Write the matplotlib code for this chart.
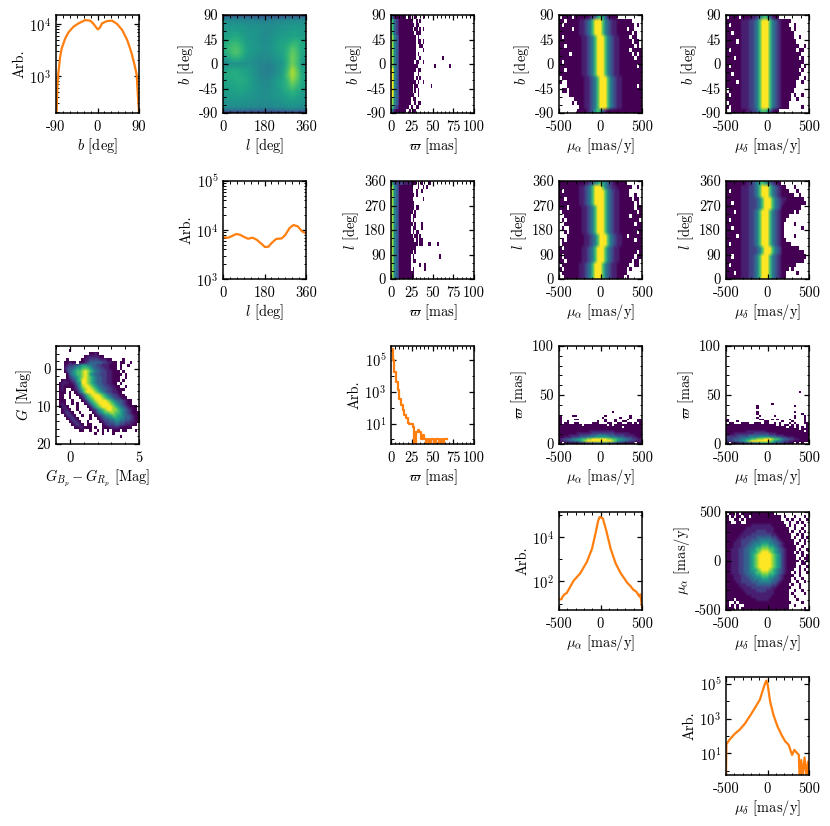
import matplotlib
matplotlib.use("Agg")
import matplotlib.pyplot as plt
import matplotlib.ticker as mticker
from matplotlib.colors import ListedColormap, PowerNorm
import numpy as np

plt.rcParams['font.family'] = ['cmr10', 'DejaVu Serif']
plt.rcParams['mathtext.fontset'] = 'cm'
plt.rcParams['font.size'] = 10.4
plt.rcParams['axes.unicode_minus'] = False
plt.rcParams['axes.formatter.use_mathtext'] = True

ORANGE = '#ff7f0e'

# 1d histograms
b_x = [-90, -88.5, -87, -85, -81, -77.6, -70, -63, -52, -41, -26.6, -15.7, -8.4, 0.4, 4.7, 9.8, 20.8, 31.7, 42.6, 53.6, 64.5, 73, 80.5, 85, 87.8, 90]
b_y = [190, 222, 623, 1125, 2355, 3400, 5300, 6900, 8900, 10300, 11900, 11600, 10000, 7900, 8400, 10300, 11400, 11600, 10000, 7670, 4900, 2940, 1620, 1050, 400, 205]

l_x = [0, 22, 36, 58, 73, 95, 109, 128, 146, 168, 182, 197, 211, 230, 255, 270, 289, 306, 324, 343, 360]
l_y = [7080, 6960, 7420, 8280, 8020, 7080, 6640, 6960, 6340, 5170, 4490, 4560, 5420, 6550, 6740, 7910, 10990, 12660, 11890, 9390, 8550]

# parallax bins are 2 mas wide, 0.1 means an empty bin below the axis
plx_edges = list(range(0, 70, 2))
plx_y = [5e5, 1e5, 1.7e4, 4e3, 1.2e3, 350, 140, 70, 34, 22, 11, 10, 9, 6, 0.1, 3, 4, 3, 1, 2,
         1, 0.1, 1, 0.1, 1, 1, 0.1, 1, 1, 0.1, 1, 0.1, 1, 1, 1]

mua_x = [-500, -470, -459, -435, -407, -325, -244, -163, -102, -61, -28, -10, 0, 10, 28, 69, 122, 183, 244, 325, 365, 394, 430, 467, 480, 500]
mua_logy = [1.19, 1.2, 1.3, 1.42, 1.48, 2.03, 2.37, 2.89, 3.48, 4.15, 4.74, 4.9, 4.9, 4.88, 4.84, 4.3, 3.48, 2.81, 2.37, 1.93, 1.78, 1.63, 1.55, 1.33, 1.42, 0.85]

mud_x = [-500, -495, -459, -398, -337, -276, -214, -153, -92, -39, -14, 2, 31, 71, 120, 173, 214, 255, 296, 324, 357, 378, 385, 390, 406, 425, 447, 468, 488, 500]
mud_logy = [-0.3, 1.52, 1.77, 2.1, 2.35, 2.68, 3.13, 3.6, 4.09, 4.9, 5.19, 4.96, 4.0, 3.22, 2.55, 2.02, 1.68, 1.48, 0.9, 1.19, 1.0, 0.9, -0.3, -0.3, 0.6, -0.3, 0.75, -0.3, 0.5, -0.3]

# l (columns) vs b (rows) density, in percent of the colour scale
lb_l = [0, 20, 40, 60, 80, 100, 120, 140, 160, 180, 200, 220, 240, 260, 280, 300, 320, 340, 360]
lb_b = [90, 86, 80, 70, 60, 50, 40, 30, 20, 10, 0, -10, -20, -30, -40, -50, -60, -70, -80, -86, -90]
lb_vals = [
    [12, 12, 12, 12, 12, 12, 12, 12, 12, 12, 12, 12, 12, 12, 12, 12, 12, 12, 12],
    [36, 37, 37, 36, 36, 36, 34, 34, 32, 32, 32, 32, 32, 34, 34, 36, 36, 36, 36],
    [48, 48, 48, 48, 48, 46, 46, 46, 44, 44, 44, 44, 46, 46, 48, 48, 48, 48, 48],
    [52, 53, 53, 53, 53, 52, 51, 50, 50, 49, 49, 49, 51, 52, 52, 54, 54, 53, 52],
    [54, 55, 56, 56, 55, 53, 52, 52, 50, 48, 48, 50, 52, 53, 54, 56, 56, 54, 54],
    [56, 58, 60, 61, 58, 54, 53, 52, 51, 48, 49, 52, 54, 56, 56, 58, 58, 56, 56],
    [58, 62, 66, 66, 62, 56, 54, 53, 51, 49, 50, 54, 56, 58, 60, 64, 66, 60, 58],
    [60, 66, 70, 71, 66, 58, 55, 53, 52, 50, 51, 54, 58, 59, 64, 72, 68, 60, 60],
    [58, 64, 70, 72, 66, 58, 54, 52, 50, 49, 50, 53, 56, 58, 66, 76, 71, 60, 58],
    [52, 56, 62, 64, 60, 54, 52, 50, 48, 48, 48, 51, 53, 56, 66, 78, 72, 58, 54],
    [46, 48, 50, 50, 50, 50, 50, 48, 46, 46, 44, 48, 50, 53, 66, 78, 70, 56, 48],
    [54, 58, 60, 60, 58, 56, 54, 50, 46, 44, 43, 46, 50, 56, 68, 86, 76, 60, 54],
    [58, 62, 62, 62, 60, 58, 54, 50, 48, 44, 44, 48, 52, 58, 72, 88, 78, 62, 58],
    [58, 60, 60, 62, 62, 60, 56, 52, 48, 47, 48, 52, 56, 60, 68, 82, 74, 62, 58],
    [56, 58, 58, 60, 60, 58, 56, 52, 50, 48, 48, 52, 56, 60, 66, 74, 68, 60, 56],
    [54, 56, 56, 58, 58, 56, 54, 52, 50, 49, 50, 52, 55, 58, 62, 66, 62, 58, 54],
    [52, 54, 54, 54, 54, 53, 52, 51, 50, 49, 50, 52, 53, 54, 58, 60, 58, 54, 52],
    [51, 52, 52, 52, 52, 51, 50, 50, 49, 49, 49, 50, 51, 52, 54, 55, 54, 52, 51],
    [48, 48, 48, 48, 48, 48, 47, 47, 46, 46, 46, 47, 47, 48, 49, 50, 49, 48, 48],
    [34, 34, 34, 34, 34, 34, 32, 32, 32, 32, 32, 32, 34, 34, 36, 36, 36, 34, 34],
    [14, 14, 14, 14, 14, 14, 14, 14, 14, 14, 14, 14, 14, 14, 14, 14, 14, 14, 14],
]

# 2d histograms, one digit per cell: 0 empty, 1 (dark) to 9 (bright), log-like levels
# rows run from the top of the panel down unless noted
b_plx = [
    "5321111110110010000100",
    "76432111111110010100",
    "76432111111111011",
    "76432111111110110101",
    "764321111111110111",
    "87543111111111101",
    "875431111111111011010",
    "8754311111111110011",
    "87543111111111100001",
    "875431111111111010",
    "87543111111111100100000000000001",
    "87543111111111011001",
    "875431111111111100000000001000000001",
    "9854311111111110110",
    "98543111111111001",
    "985431111111110101",
    "98543111111111101001",
    "9854311111111011000000001",
    "985431111111101010",
    "98543111111111001",
    "8754311111110110",
    "8754311111110010110",
    "76432111111010011",
    "532111111001011",
]
l_plx = [
    "7543333222221110101000110",
    "8754311111111000100101",
    "8754311111111001001",
    "87543111111111010",
    "8754311111111000000100",
    "875431111111110",
    "87543111111111011",
    "875431111111101",
    "875431111111011",
    "8754311111110100",
    "8754311111111010001",
    "87543111111101100010",
    "87543111111101011",
    "875431111111101101",
    "87543111111111010110",
    "8754311111111111011000110000100",
    "87543111111111100",
    "875431111111101",
    "875431111111010000000000000001",
    "8754311111110110",
    "875431111111000001001",
    "8754311111110100000010",
    "87543111111111",
    "875431111111110",
]
b_mua = [
    "011110111111234676421110000000000",
    "110111112234579997543221111110000",
    "101111112234579997543221111111010",
    "111110112234579997543221111011000",
    "111111112234579997543221111110100",
    "101111111223457999754322111101100",
    "111111111223457999754322111110110",
    "110111111223457999754322111111010",
    "111111111223457999754322111101111",
    "111101111223457999754322111110101",
    "111111111223457999754322111111011",
    "101111111223457999754322111111111",
    "111111111223457999754322111111101",
    "110111111223457999754322111111111",
    "111111111223457999754322111111111",
    "011111111122345799975432211111111",
    "100111111122345799975432211111111",
    "000111111122345799975432211111101",
    "011011111122345799975432211111111",
    "000011111122345799975432211111111",
    "000000111122345799975432211111111",
    "000001011122345799975432211111111",
    "000000001122345799975432211111111",
    "000000011112346764211111111111111",
]
b_mud = [
    "0111101111223467642110000000000",
    "111111222334579997543211110000000",
    "101111222334579997543211100100000",
    "111111222334579997543211110100000",
    "110111222334579997543211111000000",
    "111111222334579997543211111001000",
    "111101222334579997543211111100000",
    "111111222334579997543211111110010",
    "101111222334579997543211111101100",
    "111111222334579997543211111111000",
    "111011222334579997543211111110100",
    "111111222334579997543211111111100",
    "101111222334579997543211111111010",
    "111111222334579997543211111110100",
    "110111222334579997543211111111000",
    "111111222334579997543211111110010",
    "111101222334579997543211111100100",
    "111111222334579997543211111100000",
    "011111222334579997543211111000000",
    "101111222334579997543211110100100",
    "111111222334579997543211110010000",
    "011111222334579997543211100000000",
    "101111222334579997543211100000100",
    "00111111223346776421100000000",
]
l_mua = [
    "111111111122345676543211111000000",
    "111111112234579997543221111110010",
    "101111112234579999754322111100000",
    "111111112234579999754322111100100",
    "110111112234579999754322111110110",
    "111111112234579999754322111111010",
    "111011111223457999754322111111011",
    "011111111223457999754322111111101",
    "001111111223457999754322111101111",
    "010111111223457999754322111111110",
    "001111111223457999754322111111011",
    "010011111223457999754322111111111",
    "001011111223457999754322111111101",
    "000111111122345799975432211011111",
    "010111111122345799975432211111011",
    "011111111122345799975432211111111",
    "101111111223457999754322111111111",
    "111111111223457999754322111111101",
    "101111111223457999754322111111011",
    "110111111223457999754322111110110",
    "011111112234579997543221111100110",
    "101111112234579997543221111010000",
    "011111112234579997543221111000000",
    "001111112234579997543221110100000",
]
l_mud = [
    "1111111122345676543211000000000",
    "111111222334579997543211000100000",
    "101111222334579997543211100010000",
    "111111222334579997543211111001000",
    "111111222333457999754322111111100",
    "110111222333457999754321111111110",
    "111111222333457999754311111111000",
    "111011222334579997543211111010000",
    "111111222334579997543211100000000",
    "101111222334579997543211000000000",
    "111111222334579997543210000100000",
    "110111222334579997543210000000100",
    "111111222334579997543210000000000",
    "111101222334579997543210000100000",
    "111111222334579997543211000000000",
    "101111222334579997543211110000000",
    "111111222333457999754311111110000",
    "111111222333457999754311111111100",
    "110111222334579997543211111111110",
    "111111222334579997543211111111100",
    "101111222334579997543211111100000",
    "111111222334579997543211101000000",
    "111011222334579997543211000010000",
    "111111222334579997543211000000000",
]
# these two run from parallax 0 upwards
plx_mua = [
    "101111112233444555544433221111011",
    "223344556789999999999876554433222",
    "233445566778899999988776655443322",
    "112223334445556666665554443332211",
    "111122223333444555544433332222111",
    "111111122222233333333322222211111",
    "111111111111222222222211111111111",
    "111111111111111111111111111111111",
    "111111111111111111111111101111111",
    "111111111011111111101011111111111",
    "101100110000011100011001100110101",
    "100100000000000100100010011000011",
    "100000110000000000100010000100011",
    "100000000000000001000000100010000",
    "100001100000000000100000000010000",
    "",
    "000000000000000000000100000000000",
]
plx_mud = [
    "101112233445556665544332211010100",
    "333445567899999998765543322111111",
    "333444556677888999877654433221111",
    "333334444555566666554433222111111",
    "222233333444444443332221111111111",
    "111222222223333332221111111111111",
    "111111112222222211111111111111101",
    "111111111111111111111111111110111",
    "111111111111111111111111011010101",
    "111111111111111111110101101010001",
    "011000111001110110010100010100011",
    "100010000000000110000010001000010",
    "100000000000011000101000010000010",
    "000000000000100000000000000100010",
    "000000000000010000010000000100010",
    "000000000000100000000000000000100",
    "000000000000100000000000000100000",
    "",
    "000000000000100000000000000000000",
    "000000000000100000000000000100000",
    "000000000000000000100000000000000",
    "", "", "", "", "",
    "000000000000000000000000000001000",
]
mua_mud = [
    "011010111111111111100000000000000",
    "101011011011111111111101000100010",
    "100110101111111111111100101001001",
    "110011001111111111111110010010100",
    "111111111122222222111111010100010",
    "111111112222222222211111100100100",
    "111111122222333322211111101001010",
    "111111222233333333221111110010100",
    "111112223333444444332111110100101",
    "111122333344455555443211111001010",
    "111222333445556665544321111010010",
    "111222334455667776654321111100100",
    "112223344556778887765432111101001",
    "112223344566789998765432111010100",
    "112223344567899999876532111100101",
    "112223344567899999876532111101011",
    "112223344567899999876532111110101",
    "112223344567899999876532111100110",
    "112223344567899999876532111101001",
    "112223344566789998765432111001010",
    "112223344556778887765432110101001",
    "111222334455667776654321111001000",
    "111222333445556665544321110100100",
    "111122333344455555443211110010010",
    "111112223333444444332111101001000",
    "111111222233333333221111110001000",
    "111111122222333322211111100100100",
    "111111112222222222211111101000010",
    "111111111122222222111111100100000",
    "111011111111222221111111100010000",
    "100101111111111111111111110000100",
    "101010011111111111111111100100000",
    "111010111111111111111111100000010",
]
cmd = [
    "",
    "000001",
    "0000000000000112100",
    "00000000000122222110000000",
    "00001000001223333222110000100",
    "000112110112344444332211011001",
    "00012334456655443322211101001000",
    "00023445667776544332211101",
    "00013456778987654433221110100",
    "0000145677898654433322111101",
    "00001345678987654433221110010",
    "00121234679987654433221110100",
    "012221235699876544332211010",
    "0121111246899876544332211001",
    "01210012357899876544332211100",
    "011101012468999876543322110",
    "0110010012357899987654332110",
    "01100100012467899987654332110",
    "0111001000124678999987654432110",
    "01210010100124678999987654321100",
    "012210001000124678999987654321110",
    "001221001000012356789988765432110",
    "001232100100001245677887765432111",
    "000123210010010123456677665443211",
    "000012321000010012344556655443211",
    "000001232100100001233445544332211",
    "000000123210110000123334433222110",
    "000000011221110100111222211111000",
    "000000000110010010101011101100010",
    "000000000000000100100010000000000",
    "000000000000000000000000010000000",
]


def to_levels(rows, ncols, nrows):
    arr = np.zeros((nrows, ncols))
    for i, row in enumerate(rows):
        for j, c in enumerate(row[:ncols]):
            arr[i, j] = int(c)
    return arr


def new_ax(col, row):
    x0 = [56, 223, 391, 559, 726][col]
    y0 = [15, 181, 346, 512, 677][row]
    return fig.add_axes([x0 / 830, 1 - (y0 + 98) / 826, 83 / 830, 98 / 826])


def style(ax, xr, xt, xm, xname, yr=None, yt=None, ym=None, yname='Arb.'):
    ax.set_xlim(xr)
    ax.set_xticks(xt)
    ax.set_xticklabels([str(v) for v in xt])
    ax.set_xlabel(xname, labelpad=1.5)
    ax.set_ylabel(yname, labelpad=2)
    if yr is not None:
        ax.set_ylim(yr)
        ax.set_yticks(yt)
        ax.set_yticklabels([str(v) for v in yt])
        ax.yaxis.set_minor_locator(mticker.MultipleLocator(ym))
    ax.xaxis.set_minor_locator(mticker.MultipleLocator(xm))
    ax.tick_params(which='major', direction='in', top=True, right=True, length=3.6, width=0.9, pad=3.5)
    ax.tick_params(which='minor', direction='in', top=True, right=True, length=1.8, width=0.7)
    ax.tick_params(axis='x', which='major', pad=5.5)
    for s in ax.spines.values():
        s.set_linewidth(1.1)


def heat(col, row, rows, xr, yr, nx, ny, xt, xm, xname, yt, ym, yname, ylim=None, smooth=True):
    ax = new_ax(col, row)
    arr = to_levels(rows, nx, ny)
    ext = (xr[0], xr[1], yr[1], yr[0])  # first row of the list sits at yr[0]
    norm = PowerNorm(gamma=1.2, vmin=1, vmax=9)
    if smooth:
        # soften the colour steps, empty cells stay crisp in a white layer on top
        ax.imshow(np.where(arr == 0, 1, arr), cmap='viridis', norm=norm, aspect='auto',
                  extent=ext, origin='upper', interpolation='bilinear')
        ax.imshow(np.ma.masked_where(arr != 0, arr), cmap=ListedColormap(['white']), aspect='auto',
                  extent=ext, origin='upper', interpolation='nearest')
    else:
        ax.imshow(np.ma.masked_equal(arr, 0), cmap='viridis', norm=norm, aspect='auto',
                  extent=ext, origin='upper', interpolation='nearest')
    style(ax, (xr[0], xr[1]), xt, xm, xname, ylim if ylim else (min(yr), max(yr)), yt, ym, yname)
    return ax


def line(col, row, x, y, xr, xt, xm, xname, yr, yt, ytl, yminor, **kw):
    ax = new_ax(col, row)
    ax.plot(x, y, color=ORANGE, lw=1.6, **kw)
    ax.set_yscale('log')
    style(ax, xr, xt, xm, xname)
    ax.set_ylim(yr)
    ax.set_yticks(yt)
    ax.set_yticklabels(ytl)
    ax.set_yticks(yminor, minor=True)
    ax.set_yticklabels([], minor=True)
    return ax


def subs(lo, hi):
    return [m * 10.0 ** e for e in range(lo, hi) for m in range(2, 10)]


fig = plt.figure(figsize=(8.30, 8.26), dpi=100)

L_DEG = '$l$ [deg]'
B_DEG = '$b$ [deg]'
PLX = r'$\varpi$ [mas]'
MUA = r'$\mu_\alpha$ [mas/y]'
MUD = r'$\mu_\delta$ [mas/y]'
MU_T = [-500, 0, 500]
PLX_T = [0, 25, 50, 75, 100]
B_T = [-90, -45, 0, 45, 90]
L_T = [0, 90, 180, 270, 360]

# diagonal
line(0, 0, b_x, b_y, (-90, 90), [-90, 0, 90], 15, B_DEG, (195, 14900), [1e3, 1e4],
     ['$10^{3}$', '$10^{4}$'], subs(2, 4))
line(1, 1, l_x, l_y, (0, 360), [0, 180, 360], 30, L_DEG, (1e3, 1e5), [1e3, 1e4, 1e5],
     ['$10^{3}$', '$10^{4}$', '$10^{5}$'], subs(3, 5))
line(2, 2, plx_edges, plx_y, (0, 100), PLX_T, 5, PLX, (0.52, 7.2e5), [1e1, 1e3, 1e5],
     ['$10^{1}$', '$10^{3}$', '$10^{5}$'], [1, 1e2, 1e4], drawstyle='steps-post')
line(3, 3, mua_x, np.power(10.0, mua_logy), (-500, 500), MU_T, 100, MUA, (5.2, 1.35e5), [1e2, 1e4],
     ['$10^{2}$', '$10^{4}$'], [1e1, 1e3, 1e5])
line(4, 4, mud_x, np.power(10.0, mud_logy), (-500, 500), MU_T, 100, MUD, (0.55, 2.5e5), [1e1, 1e3, 1e5],
     ['$10^{1}$', '$10^{3}$', '$10^{5}$'], [1, 1e2, 1e4])

# l vs b is smooth enough to shade between the read values
ax = new_ax(1, 0)
ax.pcolormesh(lb_l, lb_b, np.array(lb_vals), cmap='viridis', vmin=0, vmax=100, shading='gouraud')
style(ax, (0, 360), [0, 180, 360], 30, L_DEG, (-90, 90), B_T, 15, B_DEG)

# first row
heat(2, 0, b_plx, (0, 100), (90, -90), 50, 24, PLX_T, 5, PLX, B_T, 15, B_DEG, smooth=False)
heat(3, 0, b_mua, (-500, 500), (90, -90), 33, 24, MU_T, 100, MUA, B_T, 15, B_DEG)
heat(4, 0, b_mud, (-500, 500), (90, -90), 33, 24, MU_T, 100, MUD, B_T, 15, B_DEG)
# second row
heat(2, 1, l_plx, (0, 100), (360, 0), 50, 24, PLX_T, 5, PLX, L_T, 30, L_DEG, smooth=False)
heat(3, 1, l_mua, (-500, 500), (360, 0), 33, 24, MU_T, 100, MUA, L_T, 30, L_DEG)
heat(4, 1, l_mud, (-500, 500), (360, 0), 33, 24, MU_T, 100, MUD, L_T, 30, L_DEG)
# third row
heat(3, 2, plx_mua, (-500, 500), (0, 100), 33, 50, MU_T, 100, MUA, [0, 50, 100], 10, PLX)
heat(4, 2, plx_mud, (-500, 500), (0, 100), 33, 50, MU_T, 100, MUD, [0, 50, 100], 10, PLX)
# proper motions against each other
heat(4, 3, mua_mud, (-500, 500), (500, -500), 33, 33, MU_T, 100, MUD, MU_T, 100, MUA)
# colour-magnitude, y axis points down
heat(0, 2, cmd, (-1, 5), (-6, 20), 33, 33, [0, 5], 1, r'$G_{B_p} - G_{R_p}$ [Mag]', [0, 10, 20], 2,
     '$G$ [Mag]', ylim=(20, -6))

plt.savefig("out.png", dpi=100)
